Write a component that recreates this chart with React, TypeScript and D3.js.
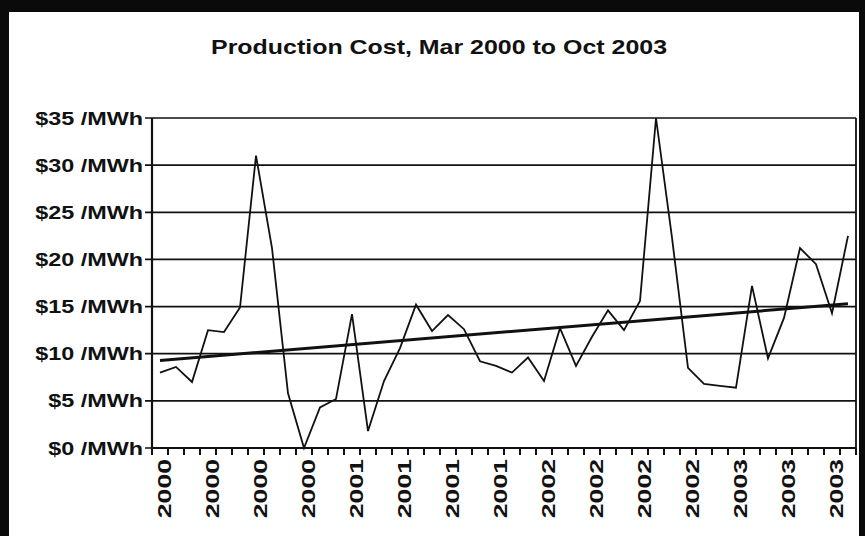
import React from "react";
import * as d3 from "d3";

const months = [
  "Mar 2000", "Apr 2000", "May 2000", "Jun 2000", "Jul 2000", "Aug 2000", "Sep 2000", "Oct 2000", "Nov 2000", "Dec 2000",
  "Jan 2001", "Feb 2001", "Mar 2001", "Apr 2001", "May 2001", "Jun 2001", "Jul 2001", "Aug 2001", "Sep 2001", "Oct 2001", "Nov 2001", "Dec 2001",
  "Jan 2002", "Feb 2002", "Mar 2002", "Apr 2002", "May 2002", "Jun 2002", "Jul 2002", "Aug 2002", "Sep 2002", "Oct 2002", "Nov 2002", "Dec 2002",
  "Jan 2003", "Feb 2003", "Mar 2003", "Apr 2003", "May 2003", "Jun 2003", "Jul 2003", "Aug 2003", "Sep 2003", "Oct 2003",
];

const cost = [
  8.0, 8.6, 7.0, 12.5, 12.3, 14.9, 31.0, 21.2, 5.8, 0.0,
  4.3, 5.2, 14.2, 1.8, 7.1, 10.6, 15.2, 12.4, 14.1, 12.6, 9.2, 8.7,
  8.0, 9.6, 7.1, 12.7, 8.7, 11.8, 14.6, 12.5, 15.6, 35.0, 22.3, 8.5,
  6.8, 6.6, 6.4, 17.2, 9.5, 13.8, 21.2, 19.5, 14.3, 22.5,
];

const yTicks = [0, 5, 10, 15, 20, 25, 30, 35];
const labelEvery = 3;
const title = "Production Cost, Mar 2000 to Oct 2003";

const W = 865;
const H = 536;
const left = 152;
const right = 856;
const top = 118;
const bottom = 448;

export default function App() {
  const x = d3.scaleBand<string>().domain(months).range([left, right]).padding(0);
  const y = d3.scaleLinear().domain([0, 35]).range([bottom, top]);
  const cx = (m: string) => (x(m) as number) + x.bandwidth() / 2;

  const line = d3
    .line<number>()
    .x((_, i) => cx(months[i]))
    .y((d) => y(d));

  // linear least-squares trendline (as Excel's linear trend)
  const n = cost.length;
  const mx = d3.mean(d3.range(n)) as number;
  const my = d3.mean(cost) as number;
  const sxy = d3.sum(cost, (v, i) => (i - mx) * (v - my));
  const sxx = d3.sum(d3.range(n), (i) => (i - mx) * (i - mx));
  const slope = sxy / sxx;
  const icpt = my - slope * mx;
  const trend = [icpt, icpt + slope * (n - 1)];

  const boundaries = d3.range(months.length + 1).map((i) => left + i * x.bandwidth());

  const font = "'Liberation Sans', Arial, sans-serif";

  return (
    <svg width={W} height={H} style={{ position: "absolute", left: 0, top: 0 }} xmlns="http://www.w3.org/2000/svg">
      <rect x={0} y={0} width={W} height={H} fill="#0a0a0a" />
      <rect x={9} y={12} width={850} height={H} fill="#ffffff" />

      <text
        x={439}
        y={54}
        textAnchor="middle"
        fontFamily={font}
        fontWeight="bold"
        fontSize={21}
        textLength={456}
        lengthAdjust="spacingAndGlyphs"
        fill="#111"
      >
        {title}
      </text>

      {/* gridlines */}
      {yTicks.map((t) => (
        <line key={"g" + t} x1={left - 7} x2={right} y1={y(t)} y2={y(t)} stroke="#111" strokeWidth={1.7} />
      ))}
      {/* plot right border */}
      <line x1={right} x2={right} y1={top} y2={bottom} stroke="#111" strokeWidth={1.8} />
      {/* y axis */}
      <line x1={left} x2={left} y1={top} y2={bottom + 1} stroke="#111" strokeWidth={2.2} />
      {/* x axis */}
      <line x1={left} x2={right} y1={bottom} y2={bottom} stroke="#111" strokeWidth={2} />
      {boundaries.map((bx, i) => (
        <line key={"t" + i} x1={bx} x2={bx} y1={bottom} y2={bottom + 7} stroke="#111" strokeWidth={2} />
      ))}

      {/* y labels */}
      {yTicks.map((t) => (
        <text
          key={"yl" + t}
          transform={`translate(143,${y(t) + 6.5}) scale(1.3,1)`}
          textAnchor="end"
          fontFamily={font}
          fontWeight="bold"
          fontSize={18}
          fill="#111"
        >
          {`$${t} /MWh`}
        </text>
      ))}

      {/* x labels */}
      {months.map((m, i) =>
        i % labelEvery === 0 ? (
          <text
            key={"xl" + i}
            transform={`translate(${cx(m) + 11},${bottom + 11}) rotate(-90) scale(1.4,1)`}
            textAnchor="end"
            fontFamily={font}
            fontWeight="bold"
            fontSize={19}
            fill="#111"
          >
            {m.slice(4)}
          </text>
        ) : null
      )}

      {/* data line */}
      <path d={line(cost) as string} fill="none" stroke="#111" strokeWidth={1.8} strokeLinejoin="miter" />
      {/* trendline */}
      <line
        x1={cx(months[0])}
        x2={cx(months[n - 1])}
        y1={y(trend[0])}
        y2={y(trend[1])}
        stroke="#111"
        strokeWidth={3}
      />
    </svg>
  );
}
